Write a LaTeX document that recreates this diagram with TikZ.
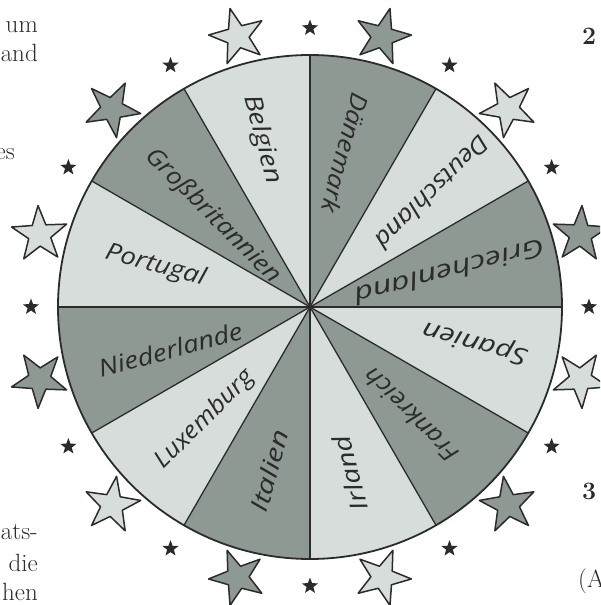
\documentclass[tikz,border=0pt]{standalone}
\usepackage{fontspec}
\newfontfamily\handfont{Open Sans}
\usetikzlibrary{shapes.geometric}
\definecolor{light}{HTML}{D6DDDA}
\definecolor{dark}{HTML}{8E9994}
\definecolor{ink}{HTML}{2B2B2B}
\newlength\labw
\newcommand\fitlab[2]{\settowidth\labw{#2}\pgfmathsetmacro\labsx{#1/\labw}\scalebox{\labsx}[1]{#2}}
\begin{document}
\begin{tikzpicture}[x=1pt,y=1pt,
  land/.style={font=\handfont\itshape\fontsize{24}{24}\selectfont, text=ink, inner sep=0},
  bigstar/.style={star, star points=5, star point ratio=2.5, minimum size=58pt, inner sep=0, draw=ink, line width=1.5pt, line join=round},
  smallstar/.style={star, star points=5, star point ratio=2.4, minimum size=17pt, inner sep=0, fill=ink, draw=none},
  pagetext/.style={font=\fontsize{25}{28}\selectfont, text=ink, inner sep=0},
  pagenum/.style={font=\bfseries\fontsize{25}{28}\selectfont, text=ink, inner sep=0}]
\useasboundingbox (0,0) rectangle (600,605);
\begin{scope}
\clip (0,0) rectangle (600,605);
\begin{scope}[shift={(310,298)}]
  \coordinate (C) at (0,0);
  % sectors
  \foreach \k in {0,...,11}{
    \pgfmathsetmacro{\a}{30*\k}
    \pgfmathparse{mod(\k,2)==0 ? "dark" : "light"}
    \edef\col{\pgfmathresult}
    \fill[\col] (C) -- (\a:252) arc[start angle=\a, delta angle=30, radius=252] -- cycle;
  }
  \foreach \k in {0,...,11}{
    \draw[ink, line width=1.3pt] (C) -- (30*\k:252);
  }
  \draw[ink, line width=1.8pt] (C) circle[radius=252];
  % labels
  \foreach \name/\ang/\rad/\len/\k in {Griechenland/14/144/196/0, Deutschland/43/168/150/1, Dänemark/77/158/123/2,
      Belgien/106/174/91/3, Großbritannien/137/133/180/4, Portugal/165/160/103/5, Niederlande/197/146/148/6,
      Luxemburg/227/154/129/7, Italien/256/169/84/8, Irland/283.5/171/77/9, Frankreich/313/148/122/10, Spanien/348/169/108/11}{
    \node[land, rotate=30*\k+15-180] (l\k) at (\ang:\rad) {\fitlab{\len}{\name}};
  }
  % big stars
  \foreach \k in {0,...,11}{
    \pgfmathparse{mod(\k,2)==0 ? "dark" : "light"}
    \edef\col{\pgfmathresult}
    \node[bigstar, fill=\col, rotate=30*\k+15-90] (b\k) at (30*\k+15:280) {};
  }
  % small stars
  \foreach \k in {0,...,11}{
    \node[smallstar] (s\k) at (30*\k:279) {};
  }
\end{scope}
% page fragments
\node[pagetext, anchor=base east] (t1) at (38,572) {um};
\node[pagetext, anchor=base east] (t2) at (38,543) {and};
\node[pagetext, anchor=base east] (t3) at (15,445) {es};
\node[pagetext, anchor=base east] (t4) at (38,65) {ats-};
\node[pagetext, anchor=base east] (t5) at (38,33) {die};
\node[pagetext, anchor=base east] (t6) at (38,5) {hen};
\node[pagenum, anchor=base west] (n2) at (582,560) {2};
\node[pagenum, anchor=base west] (n3) at (582,105) {3};
\node[pagetext, anchor=base west] (n4) at (578,17) {(A};
\end{scope}
\end{tikzpicture}
\end{document}
